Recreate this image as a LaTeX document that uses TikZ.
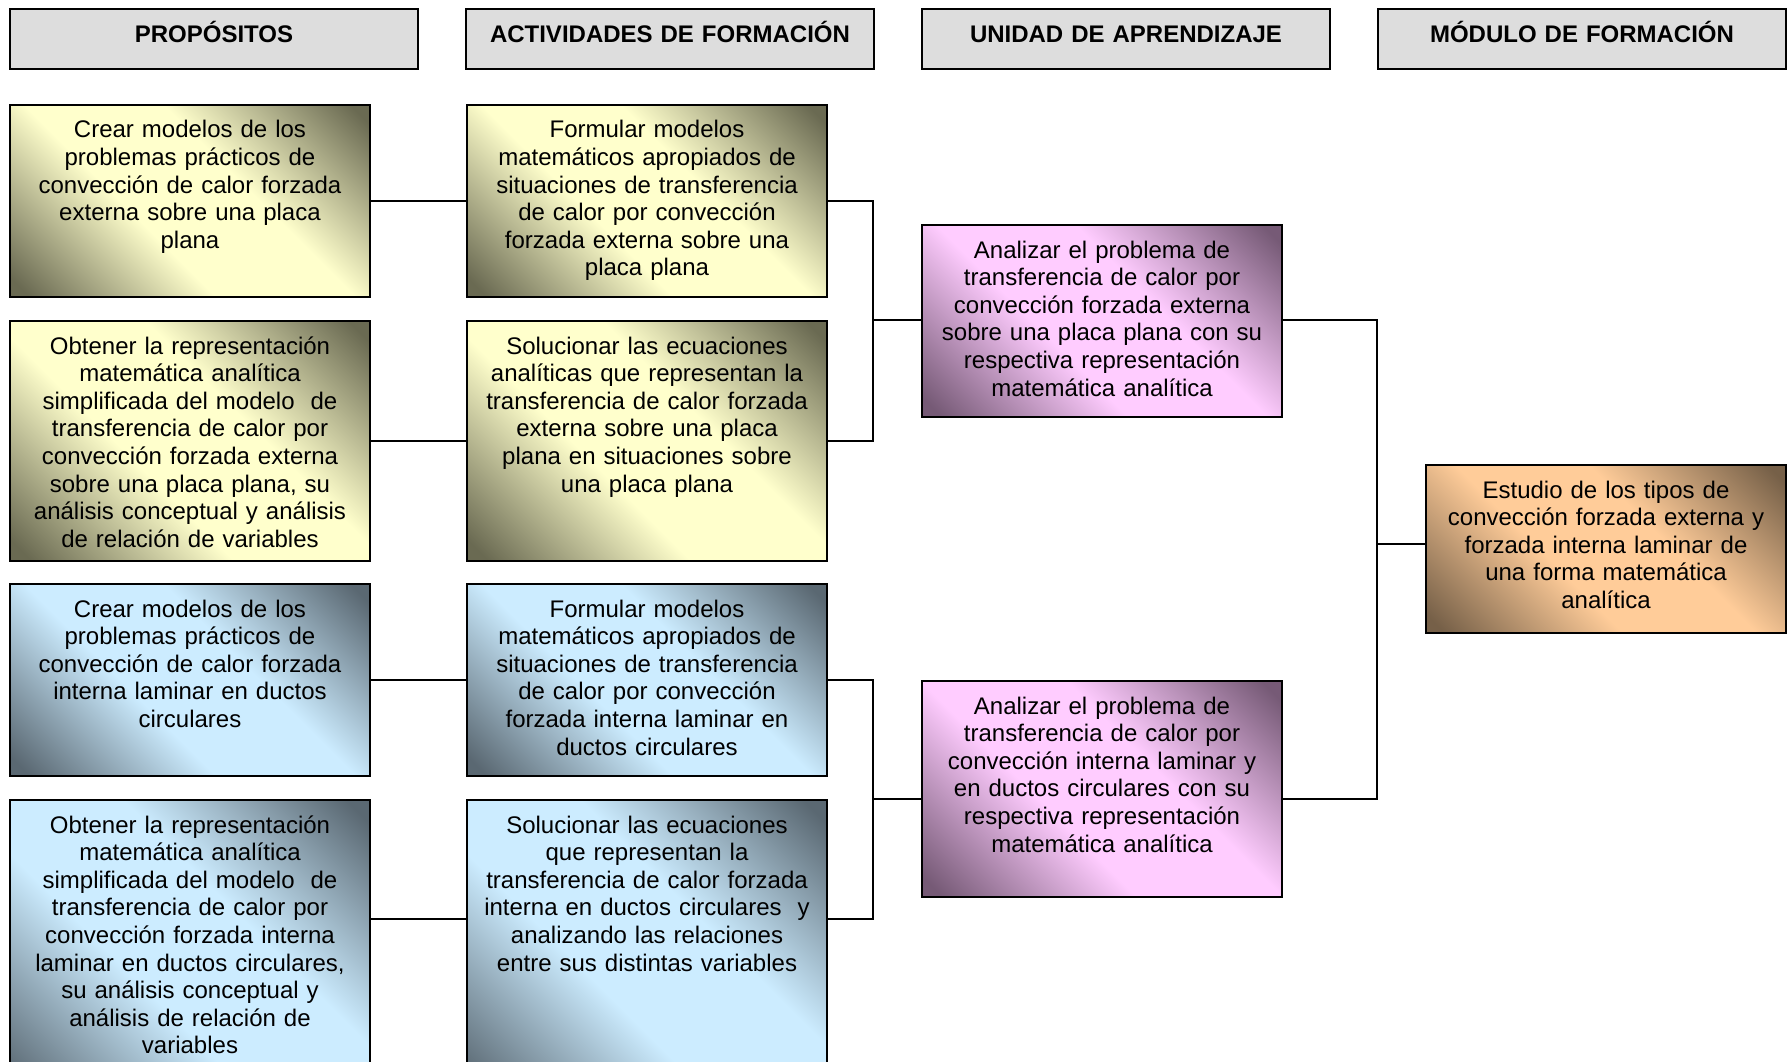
\documentclass[tikz,border=0pt]{standalone}
\usepackage{fontspec}
\setmainfont{Liberation Sans}

\definecolor{headgray}{HTML}{DDDDDD}
\definecolor{ylight}{HTML}{FFFFCC}
\definecolor{ydark}{HTML}{6A6A52}
\definecolor{blight}{HTML}{CCECFF}
\definecolor{bdark}{HTML}{5A6872}
\definecolor{plight}{HTML}{FFCCFF}
\definecolor{pdark}{HTML}{765A76}
\definecolor{olight}{HTML}{FFCC99}
\definecolor{odark}{HTML}{766048}

% diagonal bands: dark corners, light middle
\pgfdeclareverticalshading{yband}{100bp}{color(0bp)=(ydark); color(17bp)=(ydark); color(41bp)=(ylight); color(59bp)=(ylight); color(83bp)=(ydark); color(100bp)=(ydark)}
\pgfdeclareverticalshading{bband}{100bp}{color(0bp)=(bdark); color(17bp)=(bdark); color(41bp)=(blight); color(59bp)=(blight); color(83bp)=(bdark); color(100bp)=(bdark)}
\pgfdeclareverticalshading{pband}{100bp}{color(0bp)=(pdark); color(17bp)=(pdark); color(41bp)=(plight); color(59bp)=(plight); color(83bp)=(pdark); color(100bp)=(pdark)}
\pgfdeclareverticalshading{oband}{100bp}{color(0bp)=(odark); color(17bp)=(odark); color(41bp)=(olight); color(59bp)=(olight); color(83bp)=(odark); color(100bp)=(odark)}

\tikzset{
  boxtext/.style={draw=black, line width=2pt, align=center, inner xsep=6pt, inner ysep=0pt,
    font=\fontsize{24}{27.6}\selectfont, text width=348pt, text height=33pt, text depth=#1,
    anchor=north west},
  head/.style={boxtext=26pt, fill=headgray, text width=396pt, text height=34pt,
    font=\bfseries\fontsize{24}{27.6}\selectfont},
  ybox/.style={boxtext=#1, shading=yband, shading angle=-45},
  bbox/.style={boxtext=#1, shading=bband, shading angle=-45},
  pbox/.style={boxtext=#1, shading=pband, shading angle=-45},
  obox/.style={boxtext=#1, shading=oband, shading angle=-45},
  link/.style={draw=black, line width=1.5pt}
}

\begin{document}
\begin{tikzpicture}[x=1pt,y=1pt,yscale=-1,xscale=1]
        \useasboundingbox (0,0) rectangle (1790,1062);
        \clip (0,0) rectangle (1790,1062);

        % Headers
        \node [head] (h1) at (9,8) {PROPÓSITOS};
        \node [head] (h2) at (465,8) {ACTIVIDADES DE FORMACIÓN};
        \node [head] (h3) at (921,8) {UNIDAD DE APRENDIZAJE};
        \node [head] (h4) at (1377,8) {MÓDULO DE FORMACIÓN};

        % Propositos
        \node [ybox=159pt] (p1) at (9,104) {Crear modelos de los\\problemas prácticos de\\convección de calor forzada\\externa sobre una placa\\plana};
        \node [ybox=207pt] (p2) at (9,320) {Obtener la representación\\matemática analítica\\simplificada del modelo~ de\\transferencia de calor por\\convección forzada externa\\sobre una placa plana, su\\análisis conceptual y análisis\\de relación de variables};
        \node [bbox=159pt] (p3) at (9,583) {Crear modelos de los\\problemas prácticos de\\convección de calor forzada\\interna laminar en ductos\\circulares};
        \node [bbox=267pt] (p4) at (9,799) {Obtener la representación\\matemática analítica\\simplificada del modelo~ de\\transferencia de calor por\\convección forzada interna\\laminar en ductos circulares,\\su análisis conceptual y\\análisis de relación de\\variables};

        % Actividades
        \node [ybox=159pt] (a1) at (466,104) {Formular modelos\\matemáticos apropiados de\\situaciones de transferencia\\de calor por convección\\forzada externa sobre una\\placa plana};
        \node [ybox=207pt] (a2) at (466,320) {Solucionar las ecuaciones\\analíticas que representan la\\transferencia de calor forzada\\externa sobre una placa\\plana en situaciones sobre\\una placa plana};
        \node [bbox=159pt] (a3) at (466,583) {Formular modelos\\matemáticos apropiados de\\situaciones de transferencia\\de calor por convección\\forzada interna laminar en\\ductos circulares};
        \node [bbox=267pt] (a4) at (466,799) {Solucionar las ecuaciones\\que representan la\\transferencia de calor forzada\\interna en ductos circulares~ y\\analizando las relaciones\\entre sus distintas variables};

        % Unidades
        \node [pbox=159pt] (u1) at (921,224) {Analizar el problema de\\transferencia de calor por\\convección forzada externa\\sobre una placa plana con su\\respectiva representación\\matemática analítica};
        \node [pbox=183pt] (u2) at (921,680) {Analizar el problema de\\transferencia de calor por\\convección interna laminar y\\en ductos circulares con su\\respectiva representación\\matemática analítica};

        % Modulo
        \node [obox=135pt] (m1) at (1425,464) {Estudio de los tipos de\\convección forzada externa y\\forzada interna laminar de\\una forma matemática\\analítica};

        % Joints
        \coordinate (r4) at (0,919);
        \coordinate (j1) at (873,320);
        \coordinate (j2) at (873,799);
        \coordinate (j3) at (1377,544);

        % Lines
        \draw [link] (p1.east) -- (a1.west);
        \draw [link] (p2.east) -- (a2.west);
        \draw [link] (p3.east) -- (a3.west);
        \draw [link] (p4.east |- r4) -- (a4.west |- r4);
        \draw [link] (a1.east) -| (j1) |- (a2.east);
        \draw [link] (j1) -- (u1.west |- j1);
        \draw [link] (a3.east) -| (j2) |- (a4.east |- r4);
        \draw [link] (j2) -- (u2.west |- j2);
        \draw [link] (u1.east |- j1) -| (j3) |- (u2.east |- j2);
        \draw [link] (j3) -- (m1.west |- j3);

\end{tikzpicture}
\end{document}
